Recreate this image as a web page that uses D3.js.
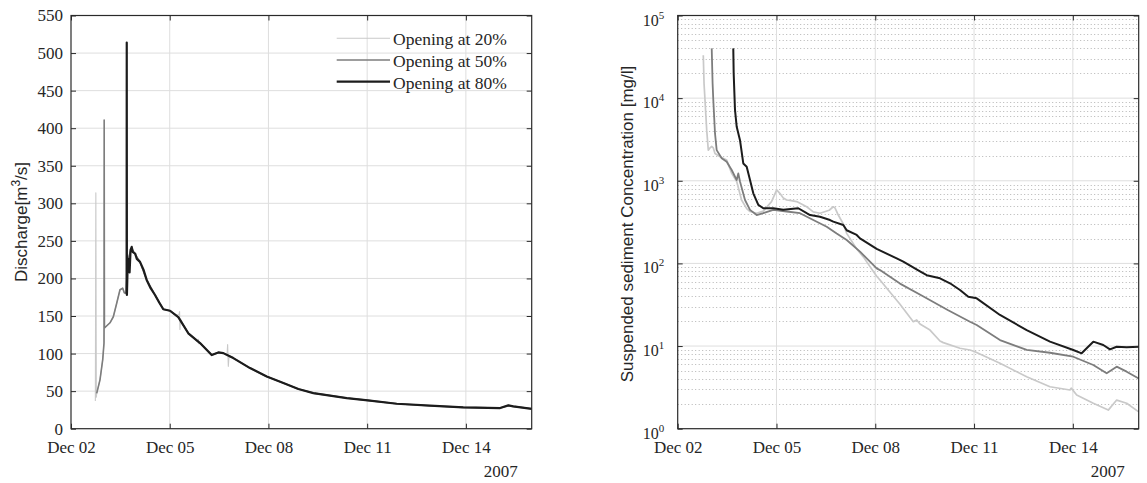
<!DOCTYPE html>
<html><head><meta charset="utf-8">
<script src="https://cdn.jsdelivr.net/npm/d3@7"></script>
<style>body{margin:0;background:#fff}</style>
</head><body>
<svg id="c" width="1147" height="483" xmlns="http://www.w3.org/2000/svg"></svg>
<script>
// ---------- data ----------
const seriesNames = ["Opening at 20%", "Opening at 50%", "Opening at 80%"];
const xTickDays = [2, 5, 8, 11, 14];          // December 2007
const yTicksQ = [0, 50, 100, 150, 200, 250, 300, 350, 400, 450, 500, 550];
const yTicksC = [1, 10, 100, 1000, 10000, 100000];
const yExpC = [0, 1, 2, 3, 4, 5];
const yearLabel = "2007";

// discharge [m3/s]  ([day of December, value])
const q20 = [[2.740,37],[2.755,314],[2.770,42],[2.781,47],[2.881,65],[2.964,92],[3.003,114],[3.020,134],[3.064,136],[3.185,141],[3.286,149],[3.389,167],[3.489,185],[3.571,187],[3.620,181],[3.672,180],[3.700,205],[3.750,228],[3.800,235],[3.845,240],[3.950,232],[4.097,222],[4.300,198],[4.553,178],[4.805,159],[5.009,157],[5.200,151],[5.280,152],[5.300,156],[5.310,132],[5.330,146],[5.400,140],[5.565,127],[5.850,116],[5.870,119],[5.890,113],[5.921,114],[6.277,98],[6.477,101.5],[6.629,100.6],[6.740,97],[6.760,112],[6.780,83],[6.800,95],[6.933,94],[7.440,80.7],[7.948,69.5],[8.453,60.7],[8.909,52.8],[9.365,47.4],[10.38,40.8],[11.02,37.7],[11.90,33.2],[12.91,30.6],[13.92,28.4],[15.04,27.5],[15.29,31],[15.44,29.7],[16.0,26.5]];
const q50 = [[2.781,47],[2.881,65],[2.964,92],[3.003,114],[3.008,411],[3.016,134],[3.064,136],[3.185,141],[3.286,149],[3.389,167],[3.489,185],[3.571,187],[3.620,181],[3.672,180],[3.700,205],[3.750,228],[3.800,235],[3.845,240],[3.950,232],[4.097,222],[4.300,198],[4.553,178],[4.805,159],[5.009,157],[5.261,148.5],[5.565,127],[5.921,114],[6.277,98],[6.477,101.5],[6.629,100.6],[6.933,94],[7.440,80.7],[7.948,69.5],[8.453,60.7],[8.909,52.8],[9.365,47.4],[10.38,40.8],[11.02,37.7],[11.90,33.2],[12.91,30.6],[13.92,28.4],[15.04,27.5],[15.29,31],[15.44,29.7],[16.0,26.5]];
const q80 = [[3.690,180],[3.694,514],[3.699,178],[3.720,215],[3.750,226],[3.780,208],[3.810,238],[3.845,242],[3.880,235],[3.950,233],[4.000,226],[4.097,222],[4.200,212],[4.300,198],[4.420,187],[4.553,178],[4.680,168],[4.805,159],[5.009,157],[5.261,148.5],[5.565,127],[5.921,114],[6.277,98],[6.477,101.5],[6.629,100.6],[6.933,94],[7.440,80.7],[7.948,69.5],[8.453,60.7],[8.909,52.8],[9.365,47.4],[10.38,40.8],[11.02,37.7],[11.90,33.2],[12.91,30.6],[13.92,28.4],[15.04,27.5],[15.29,31],[15.44,29.7],[16.0,26.5]];

// suspended sediment concentration [mg/l]
const c20 = [[2.777,33000],[2.800,15000],[2.829,9500],[2.881,4100],[2.929,2350],[2.980,2500],[3.033,2600],[3.081,2500],[3.133,2140],[3.285,1950],[3.488,1780],[3.640,1230],[3.792,980],[3.940,585],[4.095,460],[4.196,425],[4.399,405],[4.600,430],[4.850,560],[5.006,775],[5.107,700],[5.207,620],[5.310,585],[5.410,580],[5.614,560],[5.917,485],[6.118,420],[6.322,405],[6.600,440],[6.725,485],[6.777,470],[6.877,385],[7.029,300],[7.132,231],[7.436,150],[7.636,120],[8.043,70],[8.143,63],[8.751,32],[9.155,19.7],[9.258,20.7],[9.358,18.5],[9.662,15.6],[9.965,11.5],[10.066,11.0],[10.573,9.4],[10.876,8.96],[11.028,8.55],[11.787,6.18],[12.598,4.26],[13.306,3.22],[13.913,2.94],[13.950,3.1],[14.117,2.56],[14.621,2.03],[15.076,1.68],[15.331,2.22],[15.635,2.03],[16.0,1.6]];
const c50 = [[3.033,40000],[3.060,15000],[3.081,9500],[3.133,3740],[3.184,2350],[3.336,1870],[3.488,1700],[3.640,1350],[3.792,1020],[3.840,1230],[3.892,980],[4.044,585],[4.196,445],[4.399,385],[4.599,405],[4.903,445],[5.310,425],[5.714,405],[6.118,335],[6.525,278],[6.828,230],[7.132,192],[7.536,139],[8.043,87],[8.143,83],[8.750,57],[9.450,40],[10.200,27.3],[10.876,19.7],[11.080,18],[11.787,11.8],[12.598,9],[13.306,8.3],[14.013,7.43],[14.621,5.9],[15.027,4.68],[15.331,5.63],[15.635,4.9],[16.0,4.05]];
const c80 = [[3.688,40000],[3.700,20000],[3.740,7200],[3.792,4500],[3.892,3100],[3.992,1620],[4.095,1480],[4.196,1020],[4.296,705],[4.448,510],[4.599,465],[4.903,465],[5.207,445],[5.662,465],[5.917,405],[6.018,385],[6.322,367],[6.625,335],[6.725,320],[7.029,292],[7.132,252],[7.436,221],[7.536,201],[8.043,150],[8.650,115],[8.851,105],[9.358,80],[9.562,72],[9.965,66],[10.269,57.5],[10.573,47.7],[10.825,39.5],[11.080,37.8],[11.787,23.8],[12.598,15.6],[13.306,11.3],[14.013,8.96],[14.268,8.17],[14.420,9.4],[14.621,11.3],[14.924,10.3],[15.127,9.1],[15.331,9.8],[15.635,9.66],[16.0,9.8]];

// ---------- helpers ----------
const toDate = d => new Date(new Date(2007, 11, 1).getTime() + (d - 1) * 864e5);
const styles = [
  {color: "#c9c9c9", wQ: 1.1, wC: 1.7},
  {color: "#7d7d7d", wQ: 1.6, wC: 1.8},
  {color: "#1c1c1c", wQ: 2.2, wC: 2.0}
];
const SERIF = "Liberation Serif, Times New Roman, Times, DejaVu Serif, serif";
const SANS = "Liberation Sans, Arial, Helvetica, sans-serif";
const svg = d3.select("#c");

function panel(opts) {
  const {x, y, L, R, T, B} = opts;
  const g = svg.append("g");
  const grid = g.append("g");
  if (opts.minor) {
    const minors = [];
    yTicksC.slice(0, -1).forEach(v => { for (let k = 2; k <= 9; k++) minors.push(v * k); });
    grid.selectAll("line.mn").data(minors).join("line")
      .attr("x1", L).attr("x2", R).attr("y1", d => Math.round(y(d)) + 0.5).attr("y2", d => Math.round(y(d)) + 0.5)
      .attr("stroke", "#b4b4b4").attr("stroke-width", 1).attr("stroke-dasharray", "1,2.5");
  }
  grid.selectAll("line.vx").data(xTickDays.slice(1)).join("line")
    .attr("x1", d => x(toDate(d))).attr("x2", d => x(toDate(d)))
    .attr("y1", T).attr("y2", B).attr("stroke", "#dedede").attr("stroke-width", 1);
  grid.selectAll("line.hy").data(opts.yTicks.slice(1, -1)).join("line")
    .attr("x1", L).attr("x2", R).attr("y1", d => y(d)).attr("y2", d => y(d))
    .attr("stroke", "#dedede").attr("stroke-width", 1);

  const line = d3.line().x(d => x(toDate(d[0]))).y(d => y(d[1]));
  opts.series.forEach((s, i) => {
    g.append("path").datum(s).attr("d", line).attr("fill", "none")
      .attr("stroke", styles[i].color).attr("stroke-width", opts.log ? styles[i].wC : styles[i].wQ)
      .attr("stroke-linejoin", "round");
  });

  const tv = xTickDays.map(toDate);
  g.append("g").attr("transform", `translate(0,${B})`)
    .call(d3.axisBottom(x).tickValues(tv).tickFormat(d3.timeFormat("%b %d")).tickSizeInner(-5).tickSizeOuter(0).tickPadding(12));
  g.append("g").attr("transform", `translate(0,${T})`)
    .call(d3.axisTop(x).tickValues(tv).tickFormat("").tickSizeInner(-5).tickSizeOuter(0));
  g.append("g").attr("transform", `translate(${L},0)`)
    .call(d3.axisLeft(y).tickValues(opts.yTicks).tickFormat(opts.log ? "" : d3.format("d")).tickSizeInner(-5).tickSizeOuter(0).tickPadding(8));
  g.append("g").attr("transform", `translate(${R},0)`)
    .call(d3.axisRight(y).tickValues(opts.yTicks).tickFormat("").tickSizeInner(-5).tickSizeOuter(0));
  g.selectAll(".domain").remove();
  g.selectAll(".tick line").attr("stroke", "#2a2a2a");
  g.selectAll(".tick text").attr("font-size", 17).attr("fill", "#262626").style("font-family", SERIF);
  g.append("rect").attr("x", L).attr("y", T).attr("width", R - L).attr("height", B - T)
    .attr("fill", "none").attr("stroke", "#2a2a2a").attr("stroke-width", 1.2);

  if (opts.log) {
    const lab = g.append("g").attr("fill", "#262626").style("font-family", SERIF);
    yTicksC.forEach((v, i) => {
      lab.append("text").attr("x", L - 19).attr("y", y(v) + 10).attr("text-anchor", "end")
        .attr("font-size", 16).text("10");
      lab.append("text").attr("x", L - 19).attr("y", y(v) + 3).attr("font-size", 11).text(yExpC[i]);
    });
  }
  g.append("text").attr("x", R - 14).attr("y", 477).attr("text-anchor", "end")
    .style("font-family", SERIF).attr("font-size", 17).attr("fill", "#262626").text(yearLabel);
  return g;
}

// ---------- left panel ----------
const xQ = d3.scaleTime().domain([toDate(2), toDate(16)]).range([71, 531.7]);
const yQ = d3.scaleLinear().domain([0, 550]).range([428.7, 15.5]);
panel({x: xQ, y: yQ, L: 71, R: 531.7, T: 15.5, B: 428.7, yTicks: yTicksQ, series: [q20, q50, q80], log: false});

const yl = svg.append("text").attr("transform", "translate(27,222) rotate(-90)")
  .attr("text-anchor", "middle").style("font-family", SANS).attr("font-size", 17).attr("fill", "#262626");
yl.append("tspan").text("Discharge[m");
yl.append("tspan").attr("baseline-shift", "super").attr("font-size", 12).text("3");
yl.append("tspan").text("/s]");

const leg = svg.append("g");
seriesNames.forEach((name, i) => {
  const ly = 38.3 + i * 21.7;
  leg.append("line").attr("x1", 336.7).attr("x2", 390).attr("y1", ly).attr("y2", ly)
    .attr("stroke", styles[i].color).attr("stroke-width", styles[i].wQ);
  leg.append("text").attr("x", 393).attr("y", ly + 7).style("font-family", SERIF)
    .attr("font-size", 17.5).attr("fill", "#262626").text(name);
});

// ---------- right panel ----------
const xC = d3.scaleTime().domain([toDate(2), toDate(16)]).range([677.7, 1138.7]);
const yC = d3.scaleLog().domain([1, 1e5]).range([428.7, 15.5]);
panel({x: xC, y: yC, L: 677.7, R: 1138.7, T: 15.5, B: 428.7, yTicks: yTicksC, series: [c20, c50, c80], log: true, minor: true});

svg.append("text").attr("transform", "translate(633,224) rotate(-90)")
  .attr("text-anchor", "middle").style("font-family", SANS).attr("font-size", 17).attr("fill", "#262626")
  .text("Suspended sediment Concentration [mg/l]");
</script>
</body></html>
